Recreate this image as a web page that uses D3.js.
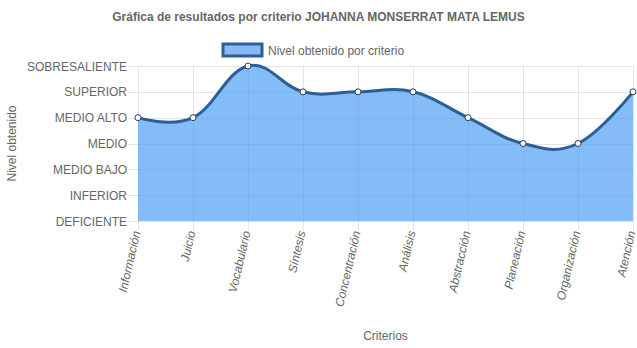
<!DOCTYPE html>
<html>
<head>
<meta charset="utf-8">
<script src="https://cdn.jsdelivr.net/npm/d3@7"></script>
<style>
  html, body { margin: 0; padding: 0; background: #fff; }
  svg { display: block; font-family: "Liberation Sans", Arial, sans-serif; }
</style>
</head>
<body>
<svg id="chart" width="637" height="348"></svg>
<script>
// Criteria evaluated and the level reached in each (0 = DEFICIENTE ... 6 = SOBRESALIENTE)
const criterios = ["Información", "Juicio", "Vocabulario", "Síntesis", "Concentración",
                   "Análisis", "Abstracción", "Planeación", "Organización", "Atención"];
const niveles = [4, 4, 6, 5, 5, 5, 4, 3, 3, 5];
const nivelLabels = ["DEFICIENTE", "INFERIOR", "MEDIO BAJO", "MEDIO", "MEDIO ALTO", "SUPERIOR", "SOBRESALIENTE"];

const titulo = "Gráfica de resultados por criterio JOHANNA MONSERRAT MATA LEMUS";
const leyenda = "Nivel obtenido por criterio";

const svg = d3.select("#chart");
const plotLeft = 138, plotRight = 633, plotTop = 66, plotBottom = 221;
const textColor = "#666";
const gridColor = "rgba(0,0,0,0.1)";
const fillColor = "rgba(80,160,245,0.7)";
const lineColor = "#2d5f97";

const x = d3.scalePoint().domain(criterios).range([plotLeft, plotRight]);
const y = d3.scaleLinear().domain([0, nivelLabels.length - 1]).range([plotBottom, plotTop]);

// Title
svg.append("text").attr("x", 318.5).attr("y", 21).attr("text-anchor", "middle")
  .attr("font-size", 12).attr("font-weight", "bold").attr("fill", textColor).text(titulo);

// Legend
svg.append("rect").attr("x", 223).attr("y", 44).attr("width", 39).attr("height", 12)
  .attr("fill", "rgb(136,185,245)").attr("stroke", lineColor).attr("stroke-width", 3);
svg.append("text").attr("x", 268).attr("y", 54.5).attr("font-size", 12)
  .attr("fill", textColor).text(leyenda);

// Grid lines
const grid = svg.append("g");
grid.selectAll("line.h").data(d3.range(nivelLabels.length)).join("line")
  .attr("x1", plotLeft - 10).attr("x2", plotRight)
  .attr("y1", d => Math.round(y(d)) + 0.5).attr("y2", d => Math.round(y(d)) + 0.5)
  .attr("stroke", gridColor);
grid.selectAll("line.v").data(criterios).join("line")
  .attr("x1", d => Math.round(x(d)) + 0.5).attr("x2", d => Math.round(x(d)) + 0.5)
  .attr("y1", plotTop).attr("y2", plotBottom + 10)
  .attr("stroke", gridColor);

// Area and line
const curve = d3.curveCardinal.tension(-0.2);
const area = d3.area().x((d, i) => x(criterios[i])).y0(plotBottom).y1(d => y(d)).curve(curve);
const line = d3.line().x((d, i) => x(criterios[i])).y(d => y(d)).curve(curve);

svg.append("path").datum(niveles).attr("d", area).attr("fill", fillColor);
svg.append("path").datum(niveles).attr("d", line).attr("fill", "none")
  .attr("stroke", lineColor).attr("stroke-width", 3);

svg.selectAll("circle.pt").data(niveles).join("circle")
  .attr("cx", (d, i) => x(criterios[i])).attr("cy", d => y(d)).attr("r", 3)
  .attr("fill", "#fff").attr("stroke", "#1f3f66").attr("stroke-width", 1);

// Y axis labels
svg.append("g").selectAll("text").data(nivelLabels).join("text")
  .attr("x", plotLeft - 11).attr("y", (d, i) => y(i) + 4.5).attr("text-anchor", "end")
  .attr("font-size", 12).attr("fill", textColor).text(d => d);

// X axis labels (rotated)
svg.append("g").selectAll("text").data(criterios).join("text")
  .attr("transform", d => `translate(${x(d) + 2.5},${plotBottom + 11}) rotate(-77)`)
  .attr("text-anchor", "end").attr("font-size", 12).attr("font-style", "italic")
  .attr("fill", textColor).text(d => d);

// Axis titles
svg.append("text").attr("transform", `translate(16,${(plotTop + plotBottom) / 2}) rotate(-90)`)
  .attr("text-anchor", "middle").attr("font-size", 12).attr("fill", textColor).text("Nivel obtenido");
svg.append("text").attr("x", (plotLeft + plotRight) / 2).attr("y", 340).attr("text-anchor", "middle")
  .attr("font-size", 12).attr("fill", textColor).text("Criterios");
</script>
</body>
</html>
